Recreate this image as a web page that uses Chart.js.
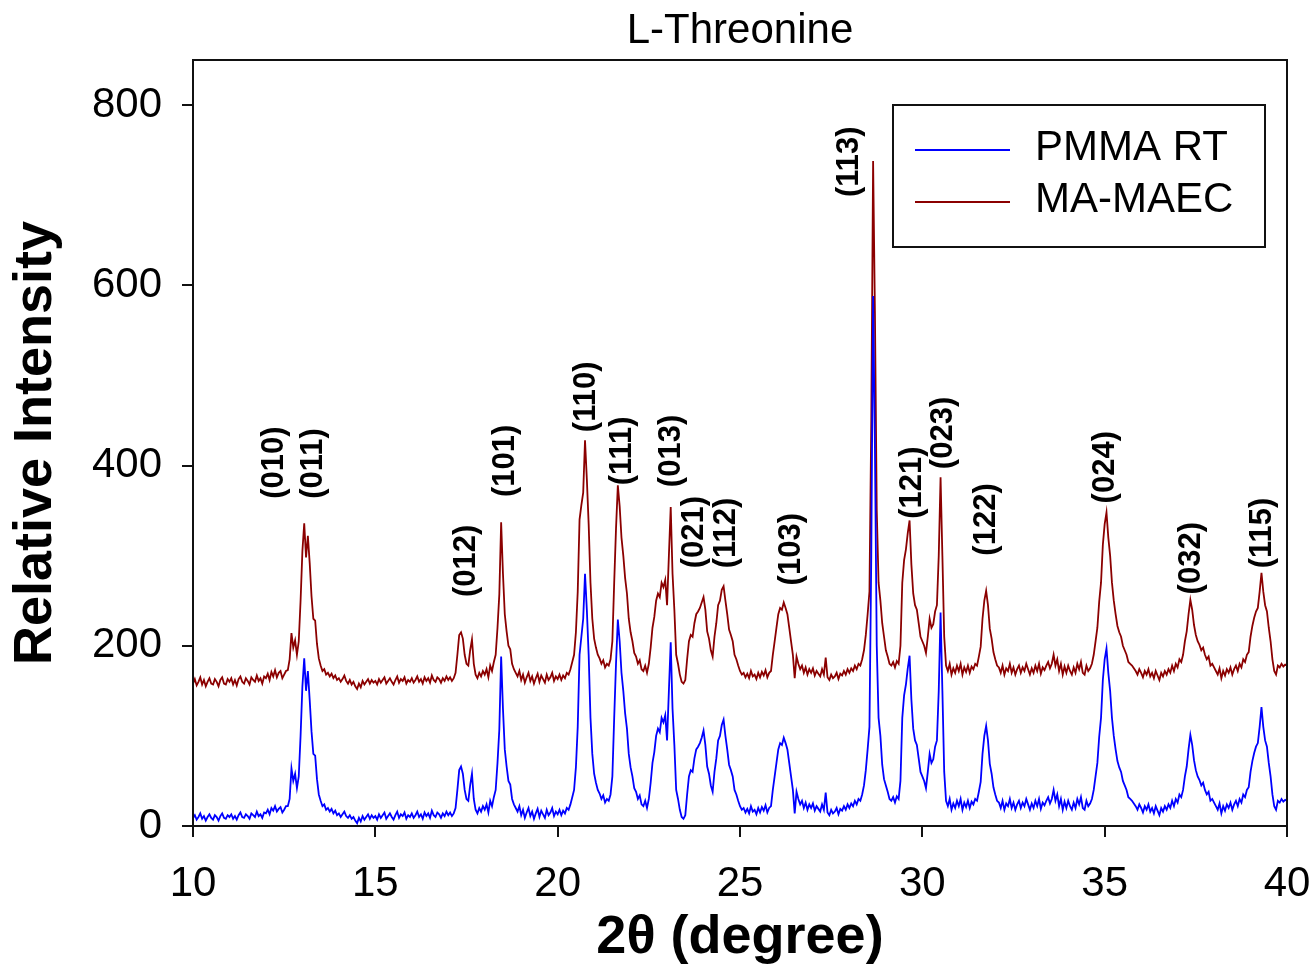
<!DOCTYPE html>
<html>
<head>
<meta charset="utf-8">
<title>L-Threonine</title>
<script src="https://cdn.jsdelivr.net/npm/chart.js@4.4.1/dist/chart.umd.min.js"></script>
<style>
  html, body { margin: 0; padding: 0; background: #fff; }
</style>
</head>
<body>
<canvas id="xrd" width="1313" height="971"></canvas>
<script>
// 2-theta scan: 10 to 40 degrees, 0.05 degree steps
const twoThetaStart = 10;
const twoThetaStep = 0.05;

// PMMA RT intensities, one row per degree
const pmmaRT = [].concat(
  [9,12,7,10,14,8,11,6,10,13,9,7,12,10,6,11,14,9,8,12],
  [10,13,8,11,7,12,15,10,9,13,11,8,14,12,10,16,11,13,9,15],
  [14,18,13,20,17,22,16,19,21,15,18,22,22,30,64,50,58,42,55,100],
  [155,186,150,172,140,105,80,78,52,35,28,22,24,18,20,16,19,14,17,12],
  [14,10,13,16,11,9,12,8,10,6,3,9,5,11,7,10,13,8,12,9],
  [11,7,13,9,12,15,8,11,14,10,7,12,16,9,13,11,15,8,12,10],
  [14,9,12,16,10,13,8,15,11,14,9,17,12,10,15,13,9,14,11,16],
  [12,15,11,14,20,40,62,66,58,40,30,28,45,58,30,18,14,20,16,22],
  [18,24,15,28,22,32,40,70,107,188,130,85,66,50,46,30,24,20,16,22],
  [12,18,9,15,20,11,16,8,14,19,10,17,13,9,18,12,15,20,11,16],
  [13,18,12,17,14,20,18,24,32,40,65,110,190,210,230,280,240,190,120,80],
  [58,48,40,36,30,34,26,30,28,35,55,120,180,229,205,170,150,125,108,80],
  [65,55,42,38,30,34,24,22,28,20,30,48,70,82,100,108,104,120,115,123],
  [95,150,204,130,90,40,30,18,10,8,12,35,55,62,60,75,85,88,92,98],
  [106,90,66,58,45,38,60,75,95,100,112,118,100,85,68,62,55,40,35,28],
  [22,18,20,15,19,14,22,16,18,13,20,15,21,17,23,15,20,22,40,55],
  [70,85,92,90,98,92,85,70,55,40,14,38,30,24,28,20,26,18,24,20],
  [25,17,22,19,16,24,18,37,15,12,18,14,16,20,13,19,17,22,18,24],
  [20,25,22,28,24,30,28,35,45,62,85,110,300,588,420,200,120,100,68,52],
  [45,38,30,28,32,26,33,30,50,120,145,157,175,189,140,108,95,90,75,60],
  [55,50,42,60,80,70,74,88,95,150,237,150,60,28,22,30,18,25,20,28],
  [22,30,18,26,21,28,20,27,24,30,28,38,49,80,100,111,95,69,58,43],
  [35,28,26,20,28,18,25,22,30,20,26,18,24,28,20,26,22,30,24,18],
  [25,20,28,22,30,19,26,23,28,32,25,30,40,28,35,22,30,18,27,20],
  [28,22,18,26,20,30,24,32,20,18,28,22,25,30,40,55,70,99,120,162],
  [185,197,170,150,120,100,85,72,65,60,50,45,40,32,30,28,25,22,18,24],
  [20,15,22,18,24,16,20,14,22,17,12,20,16,22,18,24,20,28,22,30],
  [26,35,32,40,55,66,85,101,90,73,62,55,51,45,48,40,35,38,28,30],
  [26,22,18,25,14,22,17,24,20,26,18,24,28,22,30,26,35,32,40,43],
  [60,72,81,88,92,110,132,110,95,88,70,55,35,22,18,28,26,30,27,29],
  [28]
);

// MA-MAEC intensities, same grid
const maMAEC = [].concat(
  [158,163,156,160,165,157,162,155,160,164,158,157,163,160,155,162,165,158,157,163],
  [160,164,157,162,156,163,166,160,158,164,161,157,165,162,160,167,161,164,158,166],
  [164,169,162,171,166,173,165,170,172,164,168,172,173,185,214,198,206,190,205,250],
  [305,336,298,322,292,255,230,228,202,186,178,172,174,168,170,166,169,164,167,162],
  [164,160,163,167,161,158,162,157,160,155,152,158,154,161,157,160,163,158,162,159],
  [161,157,163,159,162,165,158,161,164,160,157,162,166,159,163,161,165,158,162,160],
  [164,159,162,166,160,163,158,165,161,164,159,167,162,160,165,163,159,164,161,166],
  [162,165,161,164,170,190,212,215,208,190,180,178,195,207,180,168,164,170,166,172],
  [168,174,165,178,172,182,190,220,257,337,280,235,216,200,196,180,174,170,166,172],
  [162,168,159,165,170,161,166,158,164,169,160,167,163,159,168,162,165,170,161,166],
  [163,168,162,167,164,170,168,174,182,190,215,260,340,356,370,428,385,335,270,230],
  [208,198,190,186,180,184,176,180,178,185,205,270,330,378,355,320,300,275,258,230],
  [215,205,192,188,180,184,174,172,178,170,180,198,220,232,250,258,254,270,265,273],
  [245,300,354,280,240,190,180,168,160,158,162,185,205,212,210,225,235,238,242,248],
  [254,240,216,208,195,188,210,225,245,250,262,266,250,235,218,212,205,190,185,178],
  [172,168,170,165,169,164,172,166,168,163,170,165,171,167,173,165,170,172,190,205],
  [220,235,242,240,248,242,235,220,205,190,164,188,180,174,178,170,176,168,174,170],
  [175,167,172,169,166,174,168,187,165,162,168,164,166,170,163,169,167,172,168,174],
  [170,175,172,178,174,180,178,185,195,212,235,260,450,738,570,350,270,250,225,210],
  [195,188,180,178,182,176,183,180,200,270,295,307,325,339,290,258,245,240,225,210],
  [205,200,192,210,230,220,224,238,245,300,387,300,210,178,172,180,168,175,170,178],
  [172,180,168,176,171,178,170,177,174,180,178,188,199,230,250,261,245,219,208,193],
  [185,178,176,170,178,168,175,172,180,170,176,168,174,178,170,176,172,180,174,168],
  [175,170,178,172,180,169,176,173,178,182,175,180,190,178,185,172,180,168,177,170],
  [178,172,168,176,170,180,174,182,170,168,178,172,175,180,190,205,220,249,270,312],
  [335,348,320,300,270,250,235,222,215,210,200,195,190,182,180,178,175,172,168,174],
  [170,165,172,168,174,166,170,164,172,167,162,170,166,172,168,174,170,178,172,180],
  [176,185,182,190,205,216,235,251,240,223,212,205,201,195,198,190,185,188,178,180],
  [176,172,168,175,164,172,167,174,170,176,168,174,178,172,180,176,185,182,190,193],
  [210,222,231,238,242,260,281,260,245,238,220,205,185,172,168,178,176,180,177,179],
  [178]
);

const seriesNames = ['PMMA RT', 'MA-MAEC'];
const seriesColors = ['#0000ff', '#8b0000'];
const yTickValues = [0, 200, 400, 600, 800];

// Miller indices over the reflections: angle of the label and intensity where it starts
const hklLabels = ['(010)','(011)','(012)','(101)','(110)','(111)','(013)','(021)','(112)',
                   '(103)','(113)','(121)','(023)','(122)','(024)','(032)','(115)'];
const hklAngle = [12.22,13.29,17.51,18.56,20.80,21.79,23.13,23.74,24.62,
                  26.40,27.99,29.72,30.59,31.77,35.01,37.39,39.34];
const hklBase = [363,363,254,365,437,378,376,286,286,
                 267,698,341,396,300,358,257,286];

const FONT = 'Arial, "Liberation Sans", Helvetica, sans-serif';

function toPoints(values) {
  return values.map((v, i) => ({ x: twoThetaStart + i * twoThetaStep, y: v }));
}

// title centred over the plot box, box around the plot area
const frame = {
  id: 'frame',
  afterDraw(chart) {
    const { ctx, chartArea: a } = chart;
    ctx.save();
    ctx.strokeStyle = '#111';
    ctx.lineWidth = 2;
    ctx.strokeRect(a.left, a.top, a.right - a.left, a.bottom - a.top);
    ctx.fillStyle = '#000';
    ctx.font = '42px ' + FONT;
    ctx.textAlign = 'center';
    ctx.textBaseline = 'middle';
    ctx.fillText('L-Threonine', (a.left + a.right) / 2, 31);
    ctx.restore();
  }
};

// rotated (hkl) labels above the peaks
const hklText = {
  id: 'hklText',
  afterDatasetsDraw(chart) {
    const { ctx, scales } = chart;
    ctx.save();
    ctx.fillStyle = '#000';
    ctx.font = 'bold 31px ' + FONT;
    ctx.textAlign = 'left';
    ctx.textBaseline = 'middle';
    hklLabels.forEach((t, i) => {
      const px = scales.x.getPixelForValue(hklAngle[i]);
      const py = scales.y.getPixelForValue(hklBase[i]);
      ctx.save();
      ctx.translate(px, py);
      ctx.rotate(-Math.PI / 2);
      ctx.fillText(t, 0, 0);
      ctx.restore();
    });
    ctx.restore();
  }
};

// boxed legend in the upper right corner
const boxLegend = {
  id: 'boxLegend',
  afterDraw(chart) {
    const { ctx, chartArea: a } = chart;
    const w = 372, h = 142;
    const left = a.right - 22 - w, top = a.top + 45;
    ctx.save();
    ctx.fillStyle = '#fff';
    ctx.fillRect(left, top, w, h);
    ctx.strokeStyle = '#111';
    ctx.lineWidth = 2;
    ctx.strokeRect(left, top, w, h);
    ctx.font = '42px ' + FONT;
    ctx.textAlign = 'left';
    ctx.textBaseline = 'middle';
    chart.data.datasets.forEach((ds, i) => {
      const y = top + 45 + i * 52;
      ctx.strokeStyle = ds.borderColor;
      ctx.lineWidth = 2;
      ctx.beginPath();
      ctx.moveTo(left + 22, y);
      ctx.lineTo(left + 117, y);
      ctx.stroke();
      ctx.fillStyle = '#000';
      ctx.fillText(ds.label, left + 142, y - 2);
    });
    ctx.restore();
  }
};

new Chart(document.getElementById('xrd'), {
  type: 'line',
  data: {
    datasets: [pmmaRT, maMAEC].map((vals, i) => ({
      label: seriesNames[i],
      data: toPoints(vals),
      borderColor: seriesColors[i],
      borderWidth: 1.8,
      pointRadius: 0,
      tension: 0,
      fill: false
    }))
  },
  options: {
    responsive: false,
    animation: false,
    devicePixelRatio: 1,
    layout: { padding: { top: 60, right: 26, bottom: 0, left: 0 } },
    plugins: {
      legend: { display: false },
      tooltip: { enabled: false },
      title: { display: false }
    },
    scales: {
      x: {
        type: 'linear',
        min: 10,
        max: 40,
        ticks: {
          stepSize: 5,
          color: '#000',
          maxRotation: 0,
          padding: 22,
          font: { family: FONT, size: 42 }
        },
        grid: { drawOnChartArea: false, drawTicks: true, tickLength: 11, color: '#111', lineWidth: 2 },
        border: { display: true, color: '#111', width: 2 },
        title: {
          display: true,
          text: '2θ (degree)',
          color: '#000',
          font: { family: FONT, size: 54, weight: 'bold', lineHeight: 1.2 },
          padding: { top: 0, bottom: 0 }
        },
        afterFit(scale) {
          scale.height = 145;
          scale.paddingLeft = 0;
          scale.paddingRight = 0;
        }
      },
      y: {
        min: 0,
        max: 850,
        afterBuildTicks(scale) {
          scale.ticks = yTickValues.map(v => ({ value: v }));
        },
        ticks: {
          color: '#000',
          padding: 20,
          font: { family: FONT, size: 42 }
        },
        grid: { drawOnChartArea: false, drawTicks: true, tickLength: 11, color: '#111', lineWidth: 2 },
        border: { display: true, color: '#111', width: 2 },
        title: {
          display: true,
          text: 'Relative Intensity',
          color: '#000',
          font: { family: FONT, size: 54, weight: 'bold', lineHeight: 1.2 },
          padding: { top: 4, bottom: 0 }
        },
        afterFit(scale) {
          scale.width = 193;
          scale.paddingTop = 0;
          scale.paddingBottom = 0;
        }
      }
    }
  },
  plugins: [frame, hklText, boxLegend]
});
</script>
</body>
</html>
